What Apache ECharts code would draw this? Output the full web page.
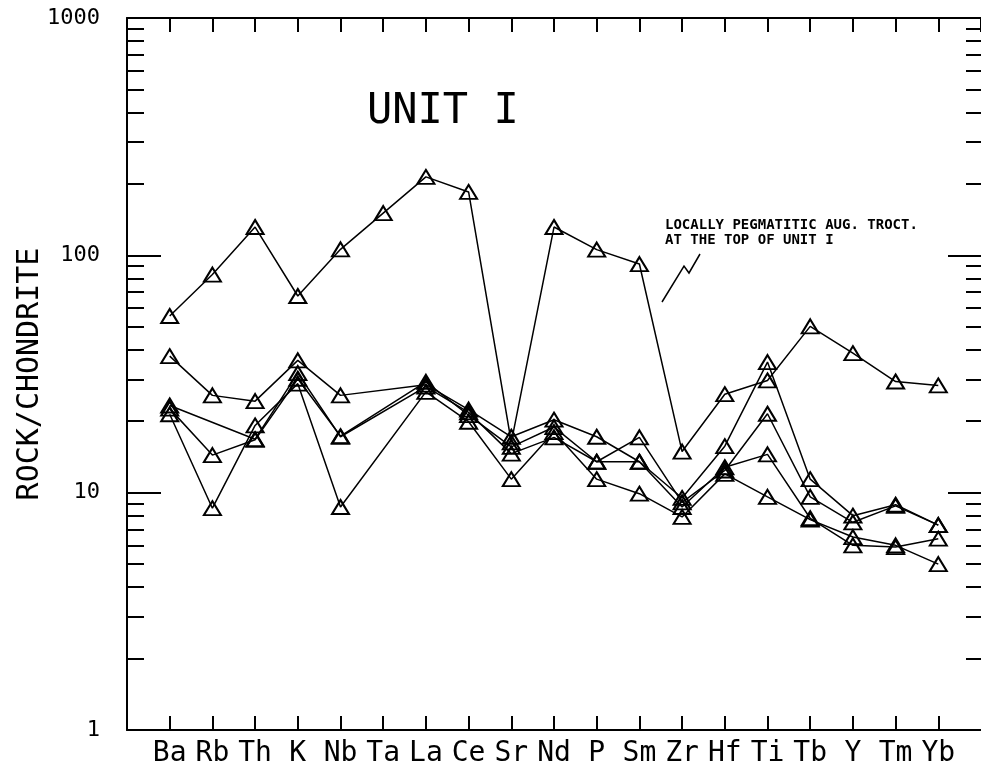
<!DOCTYPE html>
<html>
<head>
<meta charset="utf-8">
<script src="https://cdn.jsdelivr.net/npm/echarts@6/dist/echarts.min.js"></script>
<style>
  html, body { margin: 0; padding: 0; background: #fff; }
  #chart { width: 981px; height: 776px; }
</style>
</head>
<body>
<div id="chart"></div>
<script>
(function() {
  var font = 'DejaVu Sans Mono';

  // element order on the x axis
  var elements = ['Ba', 'Rb', 'Th', 'K', 'Nb', 'Ta', 'La', 'Ce', 'Sr', 'Nd', 'P', 'Sm', 'Zr', 'Hf', 'Ti', 'Tb', 'Y', 'Tm', 'Yb'];

  // rock / chondrite (null = not analysed)
  var pegmatitic = [55.5, 83, 131.6, 67.4, 106, 150.7, 214, 185, 16.3, 131.6, 105.7, 91.9, 14.9, 26.0, 29.7, 50.2, 38.7, 29.4, 28.3];
  var sampleB = [37.6, 25.7, 24.3, 36.1, 25.7, null, 28.5, 22.4, 17.2, 20.3, 17.2, 13.5, 9.5, 15.7, 35.5, 11.4, 8.0, 8.9, 7.3];
  var sampleC = [22.6, 14.4, 16.7, 30.2, 17.3, null, 29.3, 21.2, 15.6, 18.9, 13.5, 17.1, 9.1, 12.4, 21.5, 9.6, 7.5, 8.8, 7.3];
  var sampleD = [21.4, 8.6, 19.2, 28.8, 8.7, null, 26.6, 19.9, 11.4, 18.0, 11.4, 9.9, 7.9, 12.0, 9.6, 7.7, 6.5, 6.0, 5.0];
  var sampleE = [23.3, null, 16.8, 31.9, 17.2, null, 28.0, 21.8, 14.6, 17.1, 13.5, 13.5, 8.7, 12.8, 14.5, 7.8, 6.0, 5.9, 6.4];

  var majorTicks = [10, 100];
  var minorTicks = [2, 3, 4, 5, 6, 7, 8, 9, 20, 30, 40, 50, 60, 70, 80, 90, 200, 300, 400, 500, 600, 700, 800, 900];
  var yMin = 1, yMax = 1000;

  function toPoints(arr) {
    return arr.map(function(v, i) { return [i + 1, v]; });
  }

  function sampleSeries(arr) {
    return {
      type: 'line',
      xAxisIndex: 0,
      yAxisIndex: 0,
      data: toPoints(arr),
      connectNulls: true,
      symbol: 'triangle',
      symbolSize: [17, 14],
      lineStyle: { color: '#000', width: 1.5 },
      itemStyle: { color: 'rgba(0,0,0,0)', borderColor: '#000', borderWidth: 2 },
      emphasis: { disabled: true },
      silent: true,
      z: 3
    };
  }

  var axisLine = { show: true, onZero: false, lineStyle: { color: '#000', width: 2 } };

  function logAxis(gridIndex, position, ticks, len, showLine, showLabel) {
    return {
      type: 'log',
      gridIndex: gridIndex,
      logBase: 10,
      min: yMin,
      max: yMax,
      position: position,
      offset: 0,
      axisLine: showLine ? axisLine : { show: false, onZero: false },
      axisTick: { show: true, inside: true, length: len, customValues: ticks, lineStyle: { color: '#000', width: 2 } },
      axisLabel: showLabel ? {
        color: '#000', fontFamily: font, fontSize: 22, margin: 27,
        formatter: function(v) { return String(v); }
      } : { show: false },
      splitLine: { show: false },
      minorTick: { show: false }
    };
  }

  function hiddenX(gridIndex) {
    return { type: 'value', gridIndex: gridIndex, min: 0, max: elements.length + 1, show: false };
  }

  var yLeft = logAxis(0, 'left', majorTicks, 34, true, true);
  yLeft.name = 'ROCK/CHONDRITE';
  yLeft.nameLocation = 'middle';
  yLeft.nameRotate = 90;
  yLeft.nameGap = 82;
  yLeft.nameMoveOverlap = false;
  yLeft.nameTextStyle = { color: '#000', fontFamily: font, fontSize: 30 };

  var box = { left: 127, top: 18, width: 856, height: 712 };

  var chart = echarts.init(document.getElementById('chart'), null, { renderer: 'canvas' });
  chart.setOption({
    animation: false,
    backgroundColor: '#fff',
    title: {
      text: 'UNIT I',
      left: 362,
      top: 86,
      textStyle: { color: '#000', fontFamily: font, fontSize: 42, fontWeight: 'normal' }
    },
    // grids 1-3 share the plot box and only carry extra log ticks
    grid: [box, box, box, box],
    xAxis: [
      {
        type: 'value', gridIndex: 0, min: 0, max: elements.length + 1, interval: 1, position: 'bottom',
        axisLine: axisLine,
        axisTick: { show: true, inside: true, length: 14, lineStyle: { color: '#000', width: 2 } },
        axisLabel: {
          color: '#000', fontFamily: font, fontSize: 28, margin: 10,
          showMinLabel: false, showMaxLabel: false,
          formatter: function(v) { return elements[v - 1] || ''; }
        },
        splitLine: { show: false }
      },
      {
        type: 'value', gridIndex: 0, min: 0, max: elements.length + 1, interval: 1, position: 'top',
        axisLine: axisLine,
        axisTick: { show: true, inside: true, length: 14, lineStyle: { color: '#000', width: 2 } },
        axisLabel: { show: false },
        splitLine: { show: false }
      },
      hiddenX(1),
      hiddenX(2),
      hiddenX(3)
    ],
    yAxis: [
      yLeft,
      logAxis(1, 'right', majorTicks, 33, false, false),
      logAxis(2, 'left', minorTicks, 17, false, false),
      logAxis(3, 'right', minorTicks, 15, false, false)
    ],
    graphic: [
      {
        type: 'text', left: 665, top: 218,
        style: { text: 'LOCALLY PEGMATITIC AUG. TROCT.\nAT THE TOP OF UNIT I', fill: '#000',
                 font: 'bold 14px "DejaVu Sans Mono"', lineHeight: 15 }
      },
      {
        type: 'polyline',
        shape: { points: [[662, 302], [684, 266], [689, 273], [700, 254]] },
        style: { stroke: '#000', lineWidth: 1.5, fill: null }
      }
    ],
    series: [
      sampleSeries(pegmatitic),
      sampleSeries(sampleB),
      sampleSeries(sampleC),
      sampleSeries(sampleD),
      sampleSeries(sampleE)
    ]
  });
})();
</script>
</body>
</html>
